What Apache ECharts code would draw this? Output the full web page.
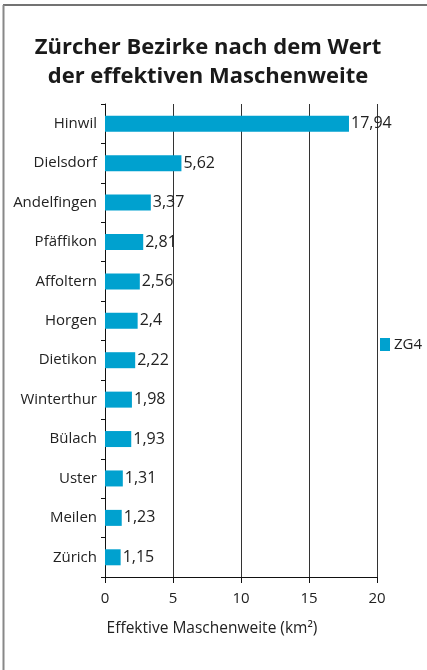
<!DOCTYPE html>
<html><head><meta charset="utf-8">
<script src="https://cdn.jsdelivr.net/npm/echarts@6/dist/echarts.min.js"></script>
<style>html,body{margin:0;padding:0;background:#fff}#c{width:427px;height:670px}</style>
</head><body><div id="c"></div>
<script>
const categories = ["Hinwil","Dielsdorf","Andelfingen","Pfäffikon","Affoltern","Horgen","Dietikon","Winterthur","Bülach","Uster","Meilen","Zürich"];
const values = [17.94,5.62,3.37,2.81,2.56,2.4,2.22,1.98,1.93,1.31,1.23,1.15];
const seriesName = "ZG4";
const titleText = "Zürcher Bezirke nach dem Wert\nder effektiven Maschenweite";
const axisName = "Effektive Maschenweite (km²)";

const font = "Open Sans";
const chart = echarts.init(document.getElementById('c'), null, {renderer:'canvas'});
chart.setOption({
  backgroundColor:'#fff',
  animation:false,
  textStyle:{fontFamily:font},
  title:{text:titleText,left:203,textAlign:'center',top:28,
    textStyle:{fontFamily:font,fontSize:22,fontWeight:'bold',color:'#1a1a1a',lineHeight:29}},
  legend:{data:[seriesName],left:375,top:332,itemWidth:10,itemHeight:13,itemGap:4,
    icon:'rect',textStyle:{fontFamily:font,fontSize:15,color:'#222',padding:[0,0,0,-1]}},
  grid:{left:105,right:50,top:104,bottom:93,containLabel:false},
  xAxis:{type:'value',min:0,max:20,interval:5,
    name:axisName,nameLocation:'middle',nameGap:44,
    nameTextStyle:{fontFamily:font,fontSize:15.5,color:'#222',padding:[0,58,0,0]},
    axisLine:{show:true,lineStyle:{color:'#111',width:1}},
    axisTick:{show:true,length:6,lineStyle:{color:'#111'}},
    axisLabel:{fontFamily:font,fontSize:15,color:'#222',margin:14},
    splitLine:{show:true,lineStyle:{color:'#333',width:1}}},
  yAxis:{type:'category',data:categories,inverse:true,
    axisLine:{show:true,lineStyle:{color:'#111',width:1}},
    axisTick:{show:true,length:4,lineStyle:{color:'#111'}},
    axisLabel:{fontFamily:font,fontSize:15,color:'#222',margin:8}},
  series:[{name:seriesName,type:'bar',data:values,barWidth:16,
    itemStyle:{color:'#00A1CF'},
    label:{show:true,position:'right',distance:2,fontFamily:font,fontSize:16,color:'#222',
      formatter:p=>String(p.value).replace('.',',')}}],
  graphic:[
    {type:'line',shape:{x1:3,y1:5,x2:427,y2:5},style:{stroke:'#444',lineWidth:1.5},silent:true},
    {type:'line',shape:{x1:3.5,y1:5,x2:3.5,y2:670},style:{stroke:'#888',lineWidth:2},silent:true}
  ]
});
</script></body></html>
